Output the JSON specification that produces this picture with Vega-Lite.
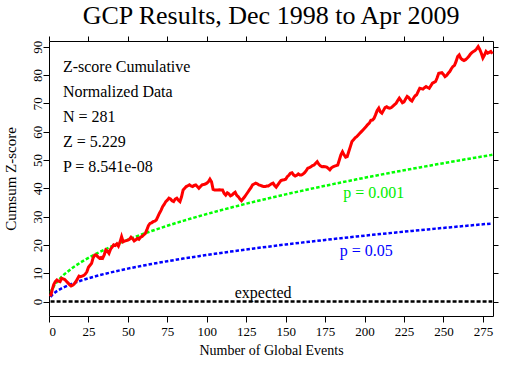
{
  "$schema": "https://vega.github.io/schema/vega-lite/v6.json",
  "width": 444,
  "height": 275,
  "autosize": {"type": "none"},
  "padding": {"left": 49, "top": 41, "right": 17, "bottom": 59},
  "background": "white",
  "title": {"text": "GCP Results, Dec 1998 to Apr 2009", "font": "Liberation Serif", "fontSize": 26, "fontWeight": "normal", "color": "black", "anchor": "middle", "baseline": "alphabetic", "offset": -14},
  "config": {
    "view": {"stroke": "black", "strokeWidth": 1},
    "font": "Liberation Serif",
    "axis": {"domain": false, "grid": false, "tickColor": "black", "tickSize": 6, "labelColor": "black", "titleColor": "black", "labelFont": "Liberation Serif", "titleFont": "Liberation Serif", "titleFontWeight": "normal", "labelFontSize": 13}
  },
  "datasets": {
    "cum": [
      {"n":1,"z":1.8},{"n":2,"z":4.1},{"n":3,"z":6.0},{"n":4,"z":7.0},{"n":5,"z":7.6},{"n":6,"z":7.2},{"n":7,"z":7.0},{"n":8,"z":8.2},{"n":9,"z":8.0},{"n":10,"z":7.8},
      {"n":11,"z":7.2},{"n":12,"z":6.6},{"n":13,"z":6.0},{"n":14,"z":5.5},{"n":15,"z":5.8},{"n":16,"z":6.2},{"n":17,"z":7.0},{"n":18,"z":8.0},{"n":19,"z":9.0},{"n":20,"z":8.8},
      {"n":21,"z":9.0},{"n":22,"z":9.2},{"n":23,"z":9.7},{"n":24,"z":10.5},{"n":25,"z":12.1},{"n":26,"z":12.8},{"n":27,"z":13.5},{"n":28,"z":15.5},{"n":29,"z":16.4},{"n":30,"z":16.4},
      {"n":31,"z":15.8},{"n":32,"z":15.3},{"n":33,"z":15.6},{"n":34,"z":15.3},{"n":35,"z":16.5},{"n":36,"z":18.2},{"n":37,"z":17.8},{"n":38,"z":17.0},{"n":39,"z":18.5},{"n":40,"z":19.2},
      {"n":41,"z":20.0},{"n":42,"z":19.8},{"n":43,"z":20.4},{"n":44,"z":19.6},{"n":45,"z":21.0},{"n":46,"z":22.9},{"n":47,"z":21.1},{"n":48,"z":21.4},{"n":49,"z":21.5},{"n":50,"z":21.7},
      {"n":51,"z":22.0},{"n":52,"z":22.7},{"n":53,"z":22.2},{"n":54,"z":21.4},{"n":55,"z":21.8},{"n":56,"z":22.3},{"n":57,"z":22.0},{"n":58,"z":22.7},{"n":59,"z":23.0},{"n":60,"z":23.5},
      {"n":61,"z":24.0},{"n":62,"z":25.3},{"n":63,"z":26.8},{"n":64,"z":27.6},{"n":65,"z":27.8},{"n":66,"z":28.2},{"n":67,"z":28.4},{"n":68,"z":28.8},{"n":69,"z":30.0},{"n":70,"z":31.2},
      {"n":71,"z":32.2},{"n":72,"z":33.5},{"n":73,"z":34.3},{"n":74,"z":35.3},{"n":75,"z":35.8},{"n":76,"z":36.5},{"n":77,"z":36.2},{"n":78,"z":35.6},{"n":79,"z":35.3},{"n":80,"z":36.2},
      {"n":81,"z":36.5},{"n":82,"z":35.8},{"n":83,"z":35.3},{"n":84,"z":37.0},{"n":85,"z":39.4},{"n":86,"z":40.0},{"n":87,"z":40.6},{"n":88,"z":40.9},{"n":89,"z":41.2},{"n":90,"z":40.8},
      {"n":91,"z":40.6},{"n":92,"z":41.0},{"n":93,"z":41.2},{"n":94,"z":40.6},{"n":95,"z":40.0},{"n":96,"z":40.6},{"n":97,"z":41.2},{"n":98,"z":41.3},{"n":99,"z":41.5},{"n":100,"z":41.8},
      {"n":101,"z":42.3},{"n":102,"z":43.2},{"n":103,"z":42.3},{"n":104,"z":39.6},{"n":105,"z":39.4},{"n":106,"z":39.4},{"n":107,"z":39.4},{"n":108,"z":39.5},{"n":109,"z":39.4},{"n":110,"z":39.4},
      {"n":111,"z":38.2},{"n":112,"z":37.6},{"n":113,"z":38.4},{"n":114,"z":38.0},{"n":115,"z":37.3},{"n":116,"z":37.6},{"n":117,"z":38.2},{"n":118,"z":38.6},{"n":119,"z":37.5},{"n":120,"z":37.0},
      {"n":121,"z":36.2},{"n":122,"z":35.6},{"n":123,"z":36.3},{"n":124,"z":37.0},{"n":125,"z":37.8},{"n":126,"z":38.6},{"n":127,"z":39.4},{"n":128,"z":40.2},{"n":129,"z":41.2},{"n":130,"z":41.5},
      {"n":131,"z":41.8},{"n":132,"z":41.6},{"n":133,"z":41.2},{"n":134,"z":41.0},{"n":135,"z":40.8},{"n":136,"z":40.6},{"n":137,"z":40.6},{"n":138,"z":40.8},{"n":139,"z":40.8},{"n":140,"z":41.2},
      {"n":141,"z":41.6},{"n":142,"z":41.8},{"n":143,"z":41.0},{"n":144,"z":40.4},{"n":145,"z":41.2},{"n":146,"z":42.0},{"n":147,"z":42.7},{"n":148,"z":42.9},{"n":149,"z":43.0},{"n":150,"z":43.2},
      {"n":151,"z":44.1},{"n":152,"z":44.6},{"n":153,"z":45.3},{"n":154,"z":45.5},{"n":155,"z":44.7},{"n":156,"z":44.3},{"n":157,"z":44.6},{"n":158,"z":45.1},{"n":159,"z":44.7},{"n":160,"z":44.7},
      {"n":161,"z":45.0},{"n":162,"z":45.5},{"n":163,"z":46.2},{"n":164,"z":47.1},{"n":165,"z":47.3},{"n":166,"z":47.6},{"n":167,"z":48.0},{"n":168,"z":48.2},{"n":169,"z":48.8},{"n":170,"z":49.4},
      {"n":171,"z":48.5},{"n":172,"z":47.9},{"n":173,"z":47.6},{"n":174,"z":47.7},{"n":175,"z":47.6},{"n":176,"z":47.5},{"n":177,"z":47.0},{"n":178,"z":46.5},{"n":179,"z":47.2},{"n":180,"z":47.6},
      {"n":181,"z":47.8},{"n":182,"z":48.0},{"n":183,"z":48.2},{"n":184,"z":50.0},{"n":185,"z":51.8},{"n":186,"z":52.9},{"n":187,"z":51.8},{"n":188,"z":51.0},{"n":189,"z":51.2},{"n":190,"z":53.0},
      {"n":191,"z":54.7},{"n":192,"z":56.5},{"n":193,"z":57.1},{"n":194,"z":57.8},{"n":195,"z":58.2},{"n":196,"z":58.8},{"n":197,"z":59.4},{"n":198,"z":60.0},{"n":199,"z":60.6},{"n":200,"z":61.2},
      {"n":201,"z":61.8},{"n":202,"z":62.5},{"n":203,"z":63.0},{"n":204,"z":64.0},{"n":205,"z":64.1},{"n":206,"z":64.7},{"n":207,"z":66.0},{"n":208,"z":67.5},{"n":209,"z":68.3},{"n":210,"z":67.0},
      {"n":211,"z":66.5},{"n":212,"z":67.5},{"n":213,"z":68.5},{"n":214,"z":68.8},{"n":215,"z":68.4},{"n":216,"z":68.3},{"n":217,"z":68.5},{"n":218,"z":69.0},{"n":219,"z":69.5},{"n":220,"z":70.0},
      {"n":221,"z":71.0},{"n":222,"z":71.8},{"n":223,"z":71.0},{"n":224,"z":70.2},{"n":225,"z":70.5},{"n":226,"z":71.5},{"n":227,"z":72.4},{"n":228,"z":72.0},{"n":229,"z":71.2},{"n":230,"z":70.8},
      {"n":231,"z":71.8},{"n":232,"z":72.6},{"n":233,"z":73.0},{"n":234,"z":74.2},{"n":235,"z":75.3},{"n":236,"z":75.2},{"n":237,"z":75.0},{"n":238,"z":75.5},{"n":239,"z":75.9},{"n":240,"z":75.6},
      {"n":241,"z":75.3},{"n":242,"z":76.2},{"n":243,"z":77.1},{"n":244,"z":77.4},{"n":245,"z":77.7},{"n":246,"z":79.0},{"n":247,"z":80.6},{"n":248,"z":80.7},{"n":249,"z":80.8},{"n":250,"z":80.2},
      {"n":251,"z":79.4},{"n":252,"z":79.8},{"n":253,"z":80.6},{"n":254,"z":81.2},{"n":255,"z":82.2},{"n":256,"z":83.0},{"n":257,"z":83.4},{"n":258,"z":84.8},{"n":259,"z":86.5},{"n":260,"z":87.1},
      {"n":261,"z":85.9},{"n":262,"z":85.4},{"n":263,"z":85.1},{"n":264,"z":85.4},{"n":265,"z":85.9},{"n":266,"z":86.5},{"n":267,"z":87.3},{"n":268,"z":87.9},{"n":269,"z":88.3},{"n":270,"z":88.6},
      {"n":271,"z":89.2},{"n":272,"z":90.0},{"n":273,"z":89.0},{"n":274,"z":87.7},{"n":275,"z":86.0},{"n":276,"z":87.0},{"n":277,"z":88.3},{"n":278,"z":87.7},{"n":279,"z":88.0},{"n":280,"z":88.3},
      {"n":281,"z":87.5}
    ],
    "bounds": [
      {"n":1,"p001":3.09,"p05":1.64,"e":0},{"n":2,"p001":4.37,"p05":2.33,"e":0},{"n":3,"p001":5.35,"p05":2.85,"e":0},{"n":4,"p001":6.18,"p05":3.29,"e":0},
      {"n":5,"p001":6.91,"p05":3.68,"e":0},{"n":6,"p001":7.57,"p05":4.03,"e":0},{"n":8,"p001":8.74,"p05":4.65,"e":0},{"n":10,"p001":9.77,"p05":5.2,"e":0},
      {"n":15,"p001":11.97,"p05":6.37,"e":0},{"n":20,"p001":13.82,"p05":7.36,"e":0},{"n":25,"p001":15.45,"p05":8.22,"e":0},{"n":30,"p001":16.93,"p05":9.01,"e":0},
      {"n":35,"p001":18.28,"p05":9.73,"e":0},{"n":40,"p001":19.54,"p05":10.4,"e":0},{"n":45,"p001":20.73,"p05":11.03,"e":0},{"n":50,"p001":21.85,"p05":11.63,"e":0},
      {"n":55,"p001":22.92,"p05":12.2,"e":0},{"n":60,"p001":23.94,"p05":12.74,"e":0},{"n":65,"p001":24.91,"p05":13.26,"e":0},{"n":70,"p001":25.85,"p05":13.76,"e":0},
      {"n":75,"p001":26.76,"p05":14.25,"e":0},{"n":80,"p001":27.64,"p05":14.71,"e":0},{"n":85,"p001":28.49,"p05":15.17,"e":0},{"n":90,"p001":29.32,"p05":15.6,"e":0},
      {"n":95,"p001":30.12,"p05":16.03,"e":0},{"n":100,"p001":30.9,"p05":16.45,"e":0},{"n":105,"p001":31.67,"p05":16.86,"e":0},{"n":110,"p001":32.41,"p05":17.25,"e":0},
      {"n":115,"p001":33.14,"p05":17.64,"e":0},{"n":120,"p001":33.85,"p05":18.02,"e":0},{"n":125,"p001":34.55,"p05":18.39,"e":0},{"n":130,"p001":35.23,"p05":18.75,"e":0},
      {"n":135,"p001":35.91,"p05":19.11,"e":0},{"n":140,"p001":36.56,"p05":19.46,"e":0},{"n":145,"p001":37.21,"p05":19.81,"e":0},{"n":150,"p001":37.85,"p05":20.15,"e":0},
      {"n":155,"p001":38.47,"p05":20.48,"e":0},{"n":160,"p001":39.09,"p05":20.81,"e":0},{"n":165,"p001":39.69,"p05":21.13,"e":0},{"n":170,"p001":40.29,"p05":21.45,"e":0},
      {"n":175,"p001":40.88,"p05":21.76,"e":0},{"n":180,"p001":41.46,"p05":22.07,"e":0},{"n":185,"p001":42.03,"p05":22.37,"e":0},{"n":190,"p001":42.6,"p05":22.67,"e":0},
      {"n":195,"p001":43.15,"p05":22.97,"e":0},{"n":200,"p001":43.7,"p05":23.26,"e":0},{"n":205,"p001":44.25,"p05":23.55,"e":0},{"n":210,"p001":44.78,"p05":23.84,"e":0},
      {"n":215,"p001":45.31,"p05":24.12,"e":0},{"n":220,"p001":45.84,"p05":24.4,"e":0},{"n":225,"p001":46.35,"p05":24.67,"e":0},{"n":230,"p001":46.87,"p05":24.95,"e":0},
      {"n":235,"p001":47.37,"p05":25.22,"e":0},{"n":240,"p001":47.87,"p05":25.48,"e":0},{"n":245,"p001":48.37,"p05":25.75,"e":0},{"n":250,"p001":48.86,"p05":26.01,"e":0},
      {"n":255,"p001":49.35,"p05":26.27,"e":0},{"n":260,"p001":49.83,"p05":26.52,"e":0},{"n":265,"p001":50.31,"p05":26.78,"e":0},{"n":270,"p001":50.78,"p05":27.03,"e":0},
      {"n":275,"p001":51.25,"p05":27.28,"e":0},{"n":281,"p001":51.8,"p05":27.57,"e":0}
    ],
    "notes": [
      {"n":8.8,"z":81.1,"label":"Z-score Cumulative"},
      {"n":8.8,"z":72.3,"label":"Normalized Data"},
      {"n":8.8,"z":63.4,"label":"N = 281"},
      {"n":8.8,"z":54.6,"label":"Z = 5.229"},
      {"n":8.8,"z":45.8,"label":"P = 8.541e-08"}
    ],
    "curvelabels": [
      {"n":205.8,"z":36.6,"label":"p = 0.001","kind":"p001"},
      {"n":201.0,"z":16.1,"label":"p = 0.05","kind":"p05"},
      {"n":135.7,"z":1.2,"label":"expected","kind":"e"}
    ]
  },
  "resolve": {"axis": {"x": "independent", "y": "independent"}},
  "layer": [
    {
      "data": {"name": "bounds"},
      "mark": {"type": "line", "color": "#00ff00", "strokeWidth": 2.5, "strokeDash": [3.5, 2]},
      "encoding": {
        "x": {"field": "n", "type": "quantitative", "scale": {"domain": [0, 281.4], "nice": false, "zero": false},
          "axis": {"orient": "top", "values": [0,25,50,75,100,125,150,175,200,225,250,275], "labels": false, "title": null, "tickSize": 5}},
        "y": {"field": "p001", "type": "quantitative", "scale": {"domain": [-5.1, 92], "nice": false, "zero": false},
          "axis": {"orient": "right", "values": [0,10,20,30,40,50,60,70,80,90], "labels": false, "title": null, "tickSize": 5}}
      }
    },
    {
      "data": {"name": "bounds"},
      "mark": {"type": "line", "color": "#0000ff", "strokeWidth": 2.5, "strokeDash": [3.5, 2]},
      "encoding": {
        "x": {"field": "n", "type": "quantitative", "scale": {"domain": [0, 281.4], "nice": false, "zero": false}, "axis": null},
        "y": {"field": "p05", "type": "quantitative", "scale": {"domain": [-5.1, 92], "nice": false, "zero": false}, "axis": null}
      }
    },
    {
      "data": {"name": "bounds"},
      "mark": {"type": "line", "color": "black", "strokeWidth": 2.5, "strokeDash": [4, 2]},
      "encoding": {
        "x": {"field": "n", "type": "quantitative", "scale": {"domain": [0, 281.4], "nice": false, "zero": false}, "axis": null},
        "y": {"field": "e", "type": "quantitative", "scale": {"domain": [-5.1, 92], "nice": false, "zero": false}, "axis": null}
      }
    },
    {
      "data": {"name": "cum"},
      "mark": {"type": "line", "color": "#ff0000", "strokeWidth": 3},
      "encoding": {
        "x": {"field": "n", "type": "quantitative", "scale": {"domain": [0, 281.4], "nice": false, "zero": false},
          "axis": {"orient": "bottom", "values": [0,25,50,75,100,125,150,175,200,225,250,275], "title": "Number of Global Events", "titleFontSize": 14, "labelPadding": 3, "titlePadding": 5}},
        "y": {"field": "z", "type": "quantitative", "scale": {"domain": [-5.1, 92], "nice": false, "zero": false},
          "axis": {"orient": "left", "values": [0,10,20,30,40,50,60,70,80,90], "labelAngle": -90, "labelAlign": "center", "labelBaseline": "alphabetic", "labelPadding": 2, "title": "Cumsum Z-score", "titleFontSize": 15, "titlePadding": 13}}
      }
    },
    {
      "data": {"name": "notes"},
      "mark": {"type": "text", "align": "left", "baseline": "alphabetic", "fontSize": 16, "color": "black", "font": "Liberation Serif"},
      "encoding": {
        "x": {"field": "n", "type": "quantitative", "scale": {"domain": [0, 281.4], "nice": false, "zero": false}, "axis": null},
        "y": {"field": "z", "type": "quantitative", "scale": {"domain": [-5.1, 92], "nice": false, "zero": false}, "axis": null},
        "text": {"field": "label"}
      }
    },
    {
      "data": {"name": "curvelabels"},
      "mark": {"type": "text", "align": "center", "baseline": "alphabetic", "fontSize": 16, "font": "Liberation Serif"},
      "encoding": {
        "x": {"field": "n", "type": "quantitative", "scale": {"domain": [0, 281.4], "nice": false, "zero": false}, "axis": null},
        "y": {"field": "z", "type": "quantitative", "scale": {"domain": [-5.1, 92], "nice": false, "zero": false}, "axis": null},
        "text": {"field": "label"},
        "color": {"field": "kind", "type": "nominal", "scale": {"domain": ["p001", "p05", "e"], "range": ["#00ee00", "#0000ff", "black"]}, "legend": null}
      }
    }
  ]
}
